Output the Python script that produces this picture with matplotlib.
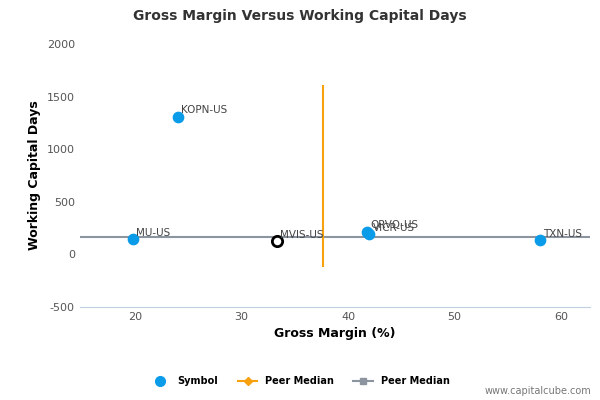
import matplotlib.pyplot as plt
from matplotlib.lines import Line2D

plt.rcParams["axes.unicode_minus"] = False

names = ["MU-US", "KOPN-US", "QRVO-US", "VICR-US", "TXN-US"]
gm = [19.8, 24.0, 41.8, 42.0, 58.0]
wcd = [148, 1310, 215, 195, 138]
subject = "MVIS-US"
subj_gm, subj_wcd = 33.3, 129
med_gm, med_wcd = 37.6, 167
med_gm_range = [-110, 1600]

fig = plt.figure(figsize=(6, 4), dpi=100)
ax = fig.add_axes([0.133, 0.233, 0.85, 0.657])
blue = "#0a9be9"
ax.plot([14.8, 62.7], [med_wcd, med_wcd], color="#8c94a0", lw=1.5, zorder=1)
ax.plot([med_gm, med_gm], med_gm_range, color="#f7a10f", lw=1.5, zorder=1)
ax.scatter(gm, wcd, s=55, color=blue, zorder=3)
ax.scatter([subj_gm], [subj_wcd], s=55, facecolor="white", edgecolor="black", lw=2, zorder=3)
for n, x, y in zip(names, gm, wcd):
    ax.text(x + 0.3, y + 30, n, fontsize=7.5, color="#444444")
ax.text(subj_gm + 0.3, subj_wcd + 30, subject, fontsize=7.5, color="#444444")

ax.set_xlim(14.8, 62.7)
ax.set_ylim(-500, 2000)
ax.set_xticks([20, 30, 40, 50, 60])
ax.set_yticks([-500, 0, 500, 1000, 1500, 2000])
ax.tick_params(labelsize=8, colors="#555555", length=0)
for s in ["top", "right", "left"]:
    ax.spines[s].set_visible(False)
ax.spines["bottom"].set_color("#c0d0e0")
ax.set_xlabel("Gross Margin (%)", fontsize=9, fontweight="bold")
ax.set_ylabel("Working Capital Days", fontsize=9, fontweight="bold")
fig.text(0.5, 0.95, "Gross Margin Versus Working Capital Days", ha="center",
         fontsize=10, fontweight="bold", color="#333333")

handles = [
    Line2D([], [], marker="o", color=blue, ls="", markersize=7),
    Line2D([], [], marker="D", color="#f7a10f", markersize=4, lw=1.5),
    Line2D([], [], marker="s", color="#8c94a0", markersize=5, lw=1.5),
]
fig.legend(handles, ["Symbol", "Peer Median", "Peer Median"], loc="center",
           bbox_to_anchor=(0.5, 0.047), ncol=3, frameon=False,
           prop={"size": 7, "weight": "bold"}, handlelength=2, columnspacing=2)
fig.text(0.985, 0.015, "www.capitalcube.com", ha="right", fontsize=7, color="#777777")
fig.savefig("out.png", dpi=100)
